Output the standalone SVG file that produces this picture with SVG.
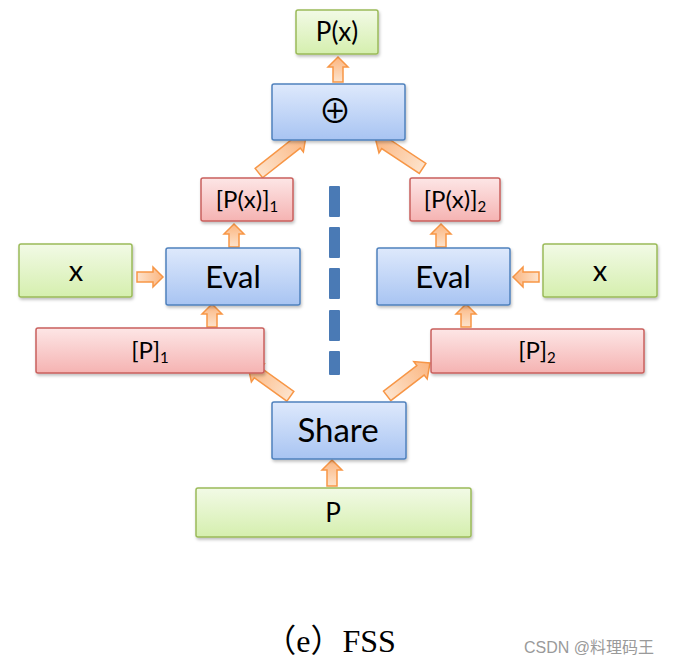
<svg xmlns="http://www.w3.org/2000/svg" width="673" height="669" viewBox="0 0 673 669">
<style>
.t{font-family:Lato,"Open Sans","Liberation Sans",sans-serif;fill:#000;text-anchor:middle}
.blue{fill:url(#gBlue);stroke:#4f81bd;stroke-width:1.5}
.green{fill:url(#gGreen);stroke:#9bbb59;stroke-width:1.5}
.red{fill:url(#gRed);stroke:#c9605d;stroke-width:1.5}
.arr{fill:url(#gArr);stroke:#f79646;stroke-width:1.5;stroke-linejoin:miter}
.dash{fill:#4a7ab5}
</style>
<defs>
<linearGradient id="gBlue" x1="0" y1="0" x2="0" y2="1"><stop offset="0" stop-color="#dee9fc"/><stop offset="1" stop-color="#a8c4f2"/></linearGradient>
<linearGradient id="gGreen" x1="0" y1="0" x2="0" y2="1"><stop offset="0" stop-color="#f2fae6"/><stop offset="1" stop-color="#d5efae"/></linearGradient>
<linearGradient id="gRed" x1="0" y1="0" x2="0" y2="1"><stop offset="0" stop-color="#fde6e6"/><stop offset="1" stop-color="#f5b3b2"/></linearGradient>
<linearGradient id="gArr" x1="0" y1="0" x2="0" y2="1"><stop offset="0" stop-color="#fbb57f"/><stop offset="1" stop-color="#fde3cc"/></linearGradient>
<filter id="sh" x="-10%" y="-10%" width="125%" height="130%"><feDropShadow dx="1" dy="2" stdDeviation="1.5" flood-color="#000" flood-opacity="0.25"/></filter>
</defs>

<g id="connectors">
  <path class="arr" transform="translate(338,57)" d="M0,0 L10,10 L5,10 L5,25 L-5,25 L-5,10 L-10,10 Z"/>
  <path class="arr" transform="translate(234,224)" d="M0,0 L10,10 L5,10 L5,23 L-5,23 L-5,10 L-10,10 Z"/>
  <path class="arr" transform="translate(441,224)" d="M0,0 L10,10 L5,10 L5,23 L-5,23 L-5,10 L-10,10 Z"/>
  <path class="arr" transform="translate(212,304)" d="M0,0 L10,10 L5,10 L5,23 L-5,23 L-5,10 L-10,10 Z"/>
  <path class="arr" transform="translate(466,304)" d="M0,0 L10,10 L5,10 L5,23 L-5,23 L-5,10 L-10,10 Z"/>
  <path class="arr" transform="translate(332,460)" d="M0,0 L10,10 L5,10 L5,26 L-5,26 L-5,10 L-10,10 Z"/>
  <path class="arr" transform="translate(163,277) rotate(90)" d="M0,0 L10,10 L5,10 L5,26 L-5,26 L-5,10 L-10,10 Z"/>
  <path class="arr" transform="translate(513,277) rotate(-90)" d="M0,0 L10,10 L5,10 L5,26 L-5,26 L-5,10 L-10,10 Z"/>
  <path class="arr" transform="translate(248,366) rotate(-54.5)" d="M0,0 L11,12 L6,12 L6,52 L-6,52 L-6,12 L-11,12 Z"/>
  <path class="arr" transform="translate(430,363) rotate(52.5)" d="M0,0 L11,12 L6,12 L6,54 L-6,54 L-6,12 L-11,12 Z"/>
  <path class="arr" transform="translate(306,136) rotate(51.8)" d="M0,0 L11,12 L6,12 L6,60 L-6,60 L-6,12 L-11,12 Z"/>
  <path class="arr" transform="translate(375,137) rotate(-56.6)" d="M0,0 L11,12 L6,12 L6,57 L-6,57 L-6,12 L-11,12 Z"/>
  <rect class="dash" x="329" y="186" width="11" height="31" rx="1"/>
  <rect class="dash" x="329" y="227" width="11" height="31" rx="1"/>
  <rect class="dash" x="329" y="268" width="11" height="31" rx="1"/>
  <rect class="dash" x="329" y="310" width="11" height="31" rx="1"/>
  <rect class="dash" x="329" y="351" width="11" height="24" rx="1"/>
</g>

<g id="px">
  <rect class="green" filter="url(#sh)" x="296" y="10" width="82" height="44" rx="2"/>
  <text class="t" x="337" y="41" font-size="26">P(x)</text>
</g>
<g id="sum">
  <rect class="blue" filter="url(#sh)" x="272" y="84" width="133" height="56" rx="2"/>
  <text x="335" y="123" font-family="'Noto Sans CJK SC','DejaVu Sans',sans-serif" font-size="33" text-anchor="middle" fill="#000">⊕</text>
</g>
<g id="pxs1">
  <rect class="red" filter="url(#sh)" x="201" y="178" width="92" height="43" rx="2"/>
  <text class="t" x="247" y="208" font-size="24">[P(x)]<tspan font-size="15" dy="4">1</tspan></text>
</g>
<g id="pxs2">
  <rect class="red" filter="url(#sh)" x="410" y="178" width="90" height="43" rx="2"/>
  <text class="t" x="455" y="208" font-size="24">[P(x)]<tspan font-size="15" dy="4">2</tspan></text>
</g>
<g id="xl">
  <rect class="green" filter="url(#sh)" x="19" y="244" width="113" height="53" rx="2"/>
  <text class="t" x="76" y="281" font-size="29">x</text>
</g>
<g id="evall">
  <rect class="blue" filter="url(#sh)" x="166" y="248" width="134" height="57" rx="2"/>
  <text class="t" x="233" y="288" font-size="31">Eval</text>
</g>
<g id="evalr">
  <rect class="blue" filter="url(#sh)" x="377" y="248" width="133" height="57" rx="2"/>
  <text class="t" x="443" y="288" font-size="31">Eval</text>
</g>
<g id="xr">
  <rect class="green" filter="url(#sh)" x="543" y="244" width="114" height="53" rx="2"/>
  <text class="t" x="600" y="281" font-size="29">x</text>
</g>
<g id="p1">
  <rect class="red" filter="url(#sh)" x="36" y="328" width="228" height="45" rx="2"/>
  <text class="t" x="150" y="359" font-size="24">[P]<tspan font-size="15" dy="4">1</tspan></text>
</g>
<g id="p2">
  <rect class="red" filter="url(#sh)" x="431" y="329" width="213" height="44" rx="2"/>
  <text class="t" x="537" y="359" font-size="24">[P]<tspan font-size="15" dy="4">2</tspan></text>
</g>
<g id="share">
  <rect class="blue" filter="url(#sh)" x="272" y="402" width="134" height="57" rx="2"/>
  <text class="t" x="338" y="442" font-size="33">Share</text>
</g>
<g id="p">
  <rect class="green" filter="url(#sh)" x="196" y="488" width="275" height="49" rx="2"/>
  <text class="t" x="333" y="522" font-size="26">P</text>
</g>

<text x="330" y="652" font-family="'Liberation Serif','Noto Sans CJK SC',serif" font-size="32" text-anchor="middle" fill="#000">（e）FSS</text>
<text x="589" y="653" font-family="'Liberation Sans','Noto Sans CJK SC',sans-serif" font-size="16" text-anchor="middle" fill="#9a9a9a">CSDN @料理码王</text>
</svg>
